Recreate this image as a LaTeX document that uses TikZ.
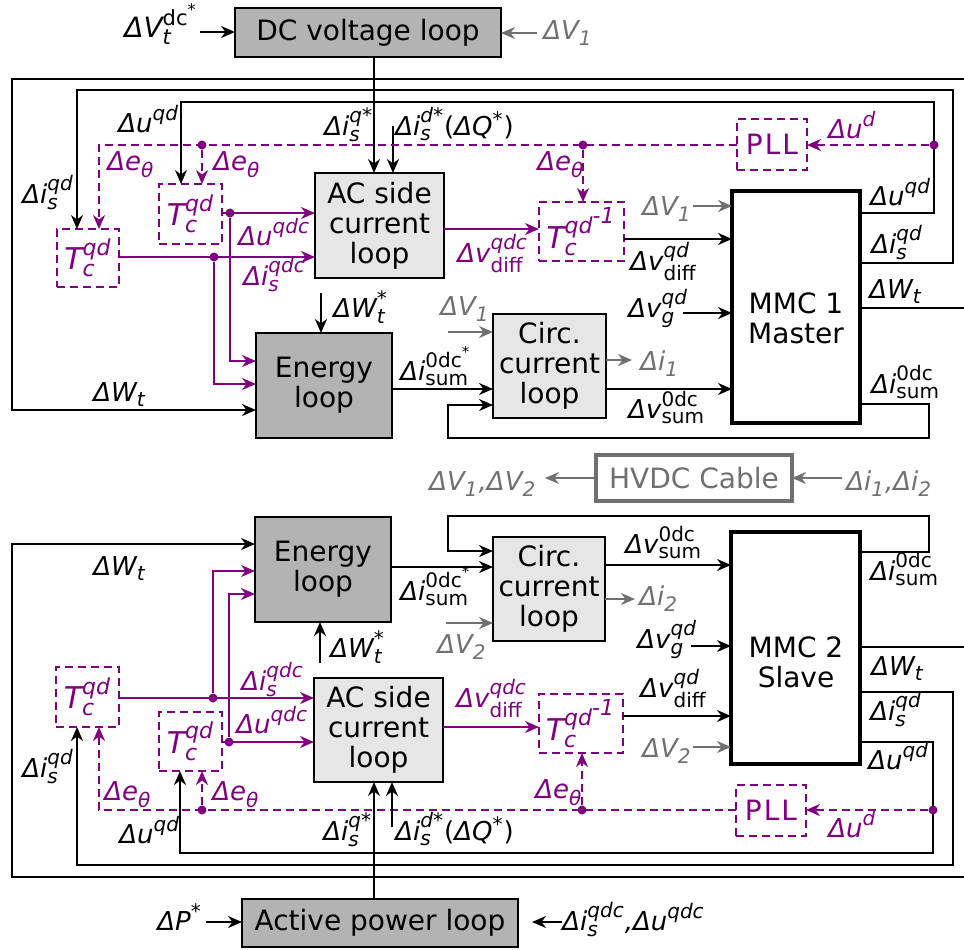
\documentclass[tikz,border=0pt]{standalone}
\usepackage{fontspec}
\usepackage{amsmath}
\setmainfont{DejaVu Sans}
\DeclareMathSizes{13}{13}{10}{7.5}
\DeclareMathSizes{14}{14}{10.5}{8}
\DeclareMathSizes{15}{15}{11}{9}
\usetikzlibrary{arrows.meta,fit}
\definecolor{pur}{HTML}{800080}
\definecolor{gr}{HTML}{707070}
\definecolor{dk}{HTML}{B3B3B3}
\definecolor{lt}{HTML}{E6E6E6}
\newcommand\Iv[1]{\text{\itshape #1}}
\newcommand\Rv[1]{\text{\upshape #1}}
\tikzset{
  ar/.style={line width=1pt,-{Stealth[length=7pt,width=6pt]}},
  par/.style={ar,draw=pur},
  gar/.style={ar,draw=gr},
  ln/.style={line width=1pt},
  pln/.style={line width=1pt,draw=pur},
  dar/.style={par,dash pattern=on 4pt off 2.5pt},
  dln/.style={pln,dash pattern=on 4pt off 2.5pt},
  blk/.style={draw,line width=1pt,inner sep=0pt,outer sep=0pt},
  dkbox/.style={blk,fill=dk},
  ltbox/.style={blk,fill=lt},
  mmcbox/.style={blk,line width=2pt,fill=white},
  dbox/.style={blk,draw=pur,dash pattern=on 4pt off 2.5pt},
  hbox/.style={blk,draw=gr,line width=1.6pt},
  btxt/.style={font=\fontsize{14}{15}\selectfont,align=center,inner sep=0pt},
  ttxt/.style={font=\fontsize{15}{15}\selectfont,text=pur,inner sep=0pt},
  lb/.style={font=\fontsize{13}{13}\selectfont,inner sep=0pt,anchor=base west},
  plb/.style={lb,text=pur},
  glb/.style={lb,text=gr},
  dot/.style={circle,fill=pur,inner sep=0pt,minimum size=4.5pt},
}
\begin{document}
\begin{tikzpicture}[x=0.5pt,y=-0.5pt]
\useasboundingbox (0,0) rectangle (964,949);

% ================= TOP HALF (MMC 1) =================
\node[dkbox, fit={(235,8)(501,57)}] (dc) {};
\node[btxt] (dct) at (dc.center) {DC voltage loop};
\node[ltbox, fit={(315,173)(444,278)}] (ac1) {};
\node[btxt] (ac1t) at (ac1.center) {AC side\\current\\loop};
\node[dkbox, fit={(256,333)(392,438)}] (en1) {};
\node[btxt] (en1t) at (en1.center) {Energy\\loop};
\node[ltbox, fit={(493,314)(606,418)}] (ci1) {};
\node[btxt] (ci1t) at (ci1.center) {Circ.\\current\\loop};
\node[mmcbox, fit={(732,191)(860,423)}] (m1) {};
\node[btxt] (m1t) at (796,318) {MMC 1\\Master};
\node[dbox, fit={(737,119)(807,170)}] (pll1) {};
\node[btxt,text=pur] (pll1t) at (pll1.center) {P\kern1pt L\kern1pt L};
\node[dbox, fit={(57,229)(119,287)}] (ta1) {};
\node[ttxt] (ta1t) at (ta1.center) {$\Iv{T}^{\Iv{qd}}_{\Iv{c}}$};
\node[dbox, fit={(159,184)(222,244)}] (tb1) {};
\node[ttxt] (tb1t) at (tb1.center) {$\Iv{T}^{\Iv{qd}}_{\Iv{c}}$};
\node[dbox, fit={(539,202)(624,261)}] (ti1) {};
\node[ttxt] (ti1t) at (ti1.center) {$\Iv{T}^{\Iv{qd}^{\scriptstyle\Iv{-1}}}_{\Iv{c}}$};

\node[hbox, fit={(596,455)(792,501)}] (hv) {};
\node[btxt,text=gr] (hvt) at (hv.center) {HVDC Cable};

% connectors top
\draw[ar] (200,32) -- (dc.west |- 0,32);
\draw[gar] (537,33) -- (dc.east |- 0,33);
\draw[ar] (dc.south -| 374,0) -- (ac1.north -| 374,0);
\coordinate (qd1) at (393,126);
\draw[ar] (qd1) -- (ac1.north -| qd1);
\draw[ar] (m1.east |- 0,308) -- (966,308) -- (966,79) -- (12,79) -- (12,410) -- (en1.west |- 0,410);
\draw[ar] (m1.east |- 0,263) -- (953,263) -- (953,90) -- (77,90) -- (ta1.north -| 77,0);
\draw[ar] (m1.east |- 0,213) -- (934,213) -- (934,102) -- (181,102) -- (tb1.north -| 181,0);
\node[dot] (pd1) at (934,145) {};
\draw[dar] (pd1) -- (pll1.east |- pd1);
\draw[dar] (pll1.west |- 0,145) -- (99,145) -- (ta1.north -| 99,0);
\node[dot] (pd2) at (202,145) {};
\draw[dar] (pd2) -- (tb1.north -| pd2);
\node[dot] (pd3) at (583,145) {};
\draw[dar] (pd3) -- (ti1.north -| pd3);
\draw[par] (tb1.east |- 0,213) -- (ac1.west |- 0,213);
\node[dot] (pd4) at (230,213) {};
\draw[par] (pd4) -- (230,361) -- (en1.west |- 0,361);
\draw[par] (ta1.east |- 0,257) -- (ac1.west |- 0,257);
\node[dot] (pd5) at (214,257) {};
\draw[par] (pd5) -- (214,384) -- (en1.west |- 0,384);
\draw[par] (ac1.east |- 0,229) -- (ti1.west |- 0,229);
\draw[ar] (ti1.east |- 0,239) -- (m1.west |- 0,239);
\draw[gar] (693,206) -- (m1.west |- 0,206);
\draw[ar] (683,313) -- (m1.west |- 0,313);
\draw[ar] (321,293) -- (en1.north -| 321,0);
\draw[ar] (en1.east |- 0,389) -- (ci1.west |- 0,389);
\draw[gar] (448,332) -- (ci1.west |- 0,332);
\draw[gar] (ci1.east |- 0,360) -- (632,360);
\draw[ar] (ci1.east |- 0,389) -- (m1.west |- 0,389);
\draw[ar] (m1.east |- 0,404) -- (929,404) -- (929,438) -- (448,438) -- (448,405) -- (ci1.west |- 0,405);
\draw[gar] (842,478) -- (hv.east |- 0,478);
\draw[gar] (hv.west |- 0,478) -- (545,478);

% labels top
\node[lb,anchor=base east,font=\fontsize{14}{14}\selectfont] (l1) at (198,37) {$\Iv{ΔV}^{\Rv{dc}^{\Rv{*}}}_{\Iv{t}}$};
\node[glb] (l2) at (543,39) {$\Iv{ΔV}_{\Iv{1}}$};
\node[lb] (l3) at (324,135) {$\Iv{Δi}^{\Iv{q}\Rv{*}}_{\Iv{s}}$};
\node[lb] (l4) at (395,135) {$\Iv{Δi}^{\Iv{d}\Rv{*}}_{\Iv{s}}$(\Iv{ΔQ}$^{\Rv{*}}$)};
\node[lb] (l5) at (118,132) {$\Iv{Δu}^{\Iv{qd}}$};
\node[plb] (l6) at (107,170) {$\Iv{Δe}_{\Iv{θ}}$};
\node[plb] (l7) at (213,170) {$\Iv{Δe}_{\Iv{θ}}$};
\node[plb] (l8) at (537,170) {$\Iv{Δe}_{\Iv{θ}}$};
\node[lb] (l9) at (22,203) {$\Iv{Δi}^{\Iv{qd}}_{\Iv{s}}$};
\node[plb] (l10) at (238,245) {$\Iv{Δu}^{\Iv{qdc}}$};
\node[plb] (l11) at (243,285) {$\Iv{Δi}^{\Iv{qdc}}_{\Iv{s}}$};
\node[plb] (l12) at (457,262) {$\Iv{Δv}^{\Iv{qdc}}_{\Rv{diff}}$};
\node[lb] (l13) at (630,270) {$\Iv{Δv}^{\Iv{qd}}_{\Rv{diff}}$};
\node[glb] (l14) at (642,215) {$\Iv{ΔV}_{\Iv{1}}$};
\node[lb] (l15) at (628,317) {$\Iv{Δv}^{\Iv{qd}}_{\Iv{g}}$};
\node[plb] (l16) at (828,138) {$\Iv{Δu}^{\Iv{d}}$};
\node[lb] (l17) at (870,205) {$\Iv{Δu}^{\Iv{qd}}$};
\node[lb] (l18) at (871,253) {$\Iv{Δi}^{\Iv{qd}}_{\Iv{s}}$};
\node[lb] (l19) at (869,298) {$\Iv{ΔW}_{\Iv{t}}$};
\node[lb] (l20) at (871,393) {$\Iv{Δi}^{\Rv{0dc}}_{\Rv{sum}}$};
\node[lb] (l21) at (333,317) {$\Iv{ΔW}^{\Rv{*}}_{\Iv{t}}$};
\node[lb] (l22) at (93,401) {$\Iv{ΔW}_{\Iv{t}}$};
\node[lb] (l23) at (400,380) {$\Iv{Δi}^{\Rv{0dc}^{\Rv{*}}}_{\Rv{sum}}$};
\node[glb] (l24) at (440,315) {$\Iv{ΔV}_{\Iv{1}}$};
\node[glb] (l25) at (640,370) {$\Iv{Δi}_{\Iv{1}}$};
\node[lb] (l26) at (628,418) {$\Iv{Δv}^{\Rv{0dc}}_{\Rv{sum}}$};
\node[glb] (l27) at (429,490) {$\Iv{ΔV}_{\Iv{1}}$\Iv{,}$\Iv{ΔV}_{\Iv{2}}$};
\node[glb] (l28) at (846,490) {$\Iv{Δi}_{\Iv{1}}$\Iv{,}$\Iv{Δi}_{\Iv{2}}$};

% ================= BOTTOM HALF (MMC 2) =================
\node[dkbox, fit={(255,517)(391,622)}] (en2) {};
\node[btxt] (en2t) at (en2.center) {Energy\\loop};
\node[ltbox, fit={(314,678)(443,782)}] (ac2) {};
\node[btxt] (ac2t) at (ac2.center) {AC side\\current\\loop};
\node[ltbox, fit={(493,537)(605,641)}] (ci2) {};
\node[btxt] (ci2t) at (ci2.center) {Circ.\\current\\loop};
\node[mmcbox, fit={(731,532)(860,764)}] (m2) {};
\node[btxt] (m2t) at (796,662) {MMC 2\\Slave};
\node[dbox, fit={(736,785)(806,836)}] (pll2) {};
\node[btxt,text=pur] (pll2t) at (pll2.center) {P\kern1pt L\kern1pt L};
\node[dbox, fit={(56,667)(119,727)}] (ta2) {};
\node[ttxt] (ta2t) at (ta2.center) {$\Iv{T}^{\Iv{qd}}_{\Iv{c}}$};
\node[dbox, fit={(159,712)(222,771)}] (tb2) {};
\node[ttxt] (tb2t) at (tb2.center) {$\Iv{T}^{\Iv{qd}}_{\Iv{c}}$};
\node[dbox, fit={(539,694)(623,753)}] (ti2) {};
\node[ttxt] (ti2t) at (ti2.center) {$\Iv{T}^{\Iv{qd}^{\scriptstyle\Iv{-1}}}_{\Iv{c}}$};
\node[dkbox, fit={(242,899)(518,947)}] (ap) {};
\node[btxt] (apt) at (ap.center) {Active power loop};

% connectors bottom
\draw[ar] (m2.east |- 0,647) -- (966,647) -- (966,877) -- (12,877) -- (12,544) -- (en2.west |- 0,544);
\draw[ar] (m2.east |- 0,692) -- (953,692) -- (953,865) -- (77,865) -- (ta2.south -| 77,0);
\draw[ar] (m2.east |- 0,742) -- (933,742) -- (933,853) -- (180,853) -- (tb2.south -| 180,0);
\node[dot] (qd1d) at (933,810) {};
\draw[dar] (qd1d) -- (pll2.east |- qd1d);
\draw[dar] (pll2.west |- 0,810) -- (99,810) -- (ta2.south -| 99,0);
\node[dot] (qd2d) at (202,810) {};
\draw[dar] (qd2d) -- (tb2.south -| qd2d);
\node[dot] (qd3d) at (582,810) {};
\draw[dar] (qd3d) -- (ti2.south -| qd3d);
\draw[par] (ta2.east |- 0,698) -- (ac2.west |- 0,698);
\node[dot] (qd4d) at (213,698) {};
\draw[par] (qd4d) -- (213,571) -- (en2.west |- 0,571);
\draw[par] (tb2.east |- 0,742) -- (ac2.west |- 0,742);
\node[dot] (qd5d) at (229,742) {};
\draw[par] (qd5d) -- (229,594) -- (en2.west |- 0,594);
\draw[par] (ac2.east |- 0,727) -- (ti2.west |- 0,727);
\draw[ar] (ti2.east |- 0,716) -- (m2.west |- 0,716);
\draw[gar] (693,747) -- (m2.west |- 0,747);
\draw[ar] (691,646) -- (m2.west |- 0,646);
\draw[ar] (320,663) -- (en2.south -| 320,0);
\draw[ar] (en2.east |- 0,567) -- (ci2.west |- 0,567);
\draw[gar] (446,623) -- (ci2.west |- 0,623);
\draw[gar] (ci2.east |- 0,599) -- (635,599);
\draw[ar] (ci2.east |- 0,565) -- (m2.west |- 0,565);
\draw[ar] (m2.east |- 0,552) -- (929,552) -- (929,516) -- (448,516) -- (448,551) -- (ci2.west |- 0,551);
\draw[ar] (ap.north -| 374,0) -- (ac2.south -| 374,0);
\coordinate (qd2) at (392,827);
\draw[ar] (qd2) -- (ac2.south -| qd2);
\draw[ar] (206,922) -- (ap.west |- 0,922);
\draw[ar,shorten >=7pt] (562,922) -- (ap.east |- 0,922);

% labels bottom
\node[lb] (b1) at (93,575) {$\Iv{ΔW}_{\Iv{t}}$};
\node[lb] (b2) at (400,600) {$\Iv{Δi}^{\Rv{0dc}^{\Rv{*}}}_{\Rv{sum}}$};
\node[lb] (b3) at (330,657) {$\Iv{ΔW}^{\Rv{*}}_{\Iv{t}}$};
\node[plb] (b4) at (241,690) {$\Iv{Δi}^{\Iv{qdc}}_{\Iv{s}}$};
\node[plb] (b5) at (236,733) {$\Iv{Δu}^{\Iv{qdc}}$};
\node[plb] (b6) at (456,707) {$\Iv{Δv}^{\Iv{qdc}}_{\Rv{diff}}$};
\node[lb] (b7) at (640,697) {$\Iv{Δv}^{\Iv{qd}}_{\Rv{diff}}$};
\node[glb] (b8) at (642,757) {$\Iv{ΔV}_{\Iv{2}}$};
\node[lb] (b9) at (637,648) {$\Iv{Δv}^{\Iv{qd}}_{\Iv{g}}$};
\node[lb] (b10) at (625,553) {$\Iv{Δv}^{\Rv{0dc}}_{\Rv{sum}}$};
\node[glb] (b11) at (639,605) {$\Iv{Δi}_{\Iv{2}}$};
\node[glb] (b12) at (437,653) {$\Iv{ΔV}_{\Iv{2}}$};
\node[lb] (b13) at (870,580) {$\Iv{Δi}^{\Rv{0dc}}_{\Rv{sum}}$};
\node[lb] (b14) at (871,675) {$\Iv{ΔW}_{\Iv{t}}$};
\node[lb] (b15) at (870,720) {$\Iv{Δi}^{\Iv{qd}}_{\Iv{s}}$};
\node[lb] (b16) at (868,769) {$\Iv{Δu}^{\Iv{qd}}$};
\node[plb] (b17) at (828,837) {$\Iv{Δu}^{\Iv{d}}$};
\node[plb] (b18) at (535,798) {$\Iv{Δe}_{\Iv{θ}}$};
\node[plb] (b19) at (104,800) {$\Iv{Δe}_{\Iv{θ}}$};
\node[plb] (b20) at (212,800) {$\Iv{Δe}_{\Iv{θ}}$};
\node[lb] (b21) at (22,777) {$\Iv{Δi}^{\Iv{qd}}_{\Iv{s}}$};
\node[lb] (b22) at (119,843) {$\Iv{Δu}^{\Iv{qd}}$};
\node[lb] (b23) at (323,840) {$\Iv{Δi}^{\Iv{q}\Rv{*}}_{\Iv{s}}$};
\node[lb] (b24) at (395,840) {$\Iv{Δi}^{\Iv{d}\Rv{*}}_{\Iv{s}}$(\Iv{ΔQ}$^{\Rv{*}}$)};
\node[lb] (b25) at (157,930) {$\Iv{ΔP}^{\Rv{*}}$};
\node[lb] (b26) at (562,930) {$\Iv{Δi}^{\Iv{qdc}}_{\Iv{s}}$\Iv{,}$\Iv{Δu}^{\Iv{qdc}}$};
\end{tikzpicture}
\end{document}
